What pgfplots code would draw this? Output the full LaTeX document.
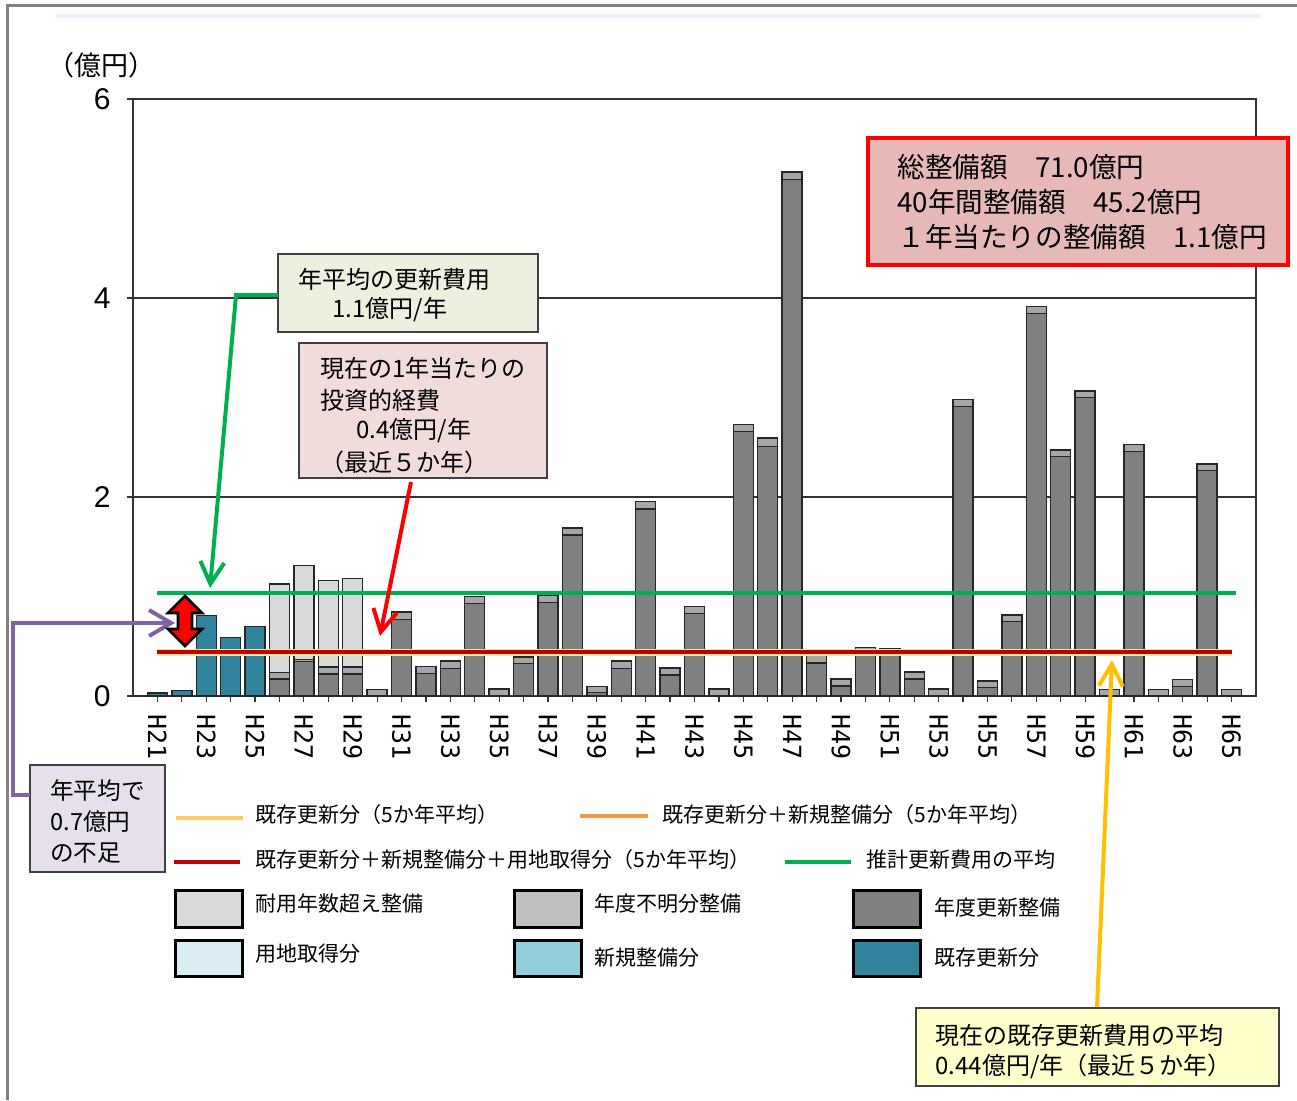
\documentclass[border=0pt]{standalone}
\usepackage{fontspec}
\setmainfont{Noto Sans CJK JP}
\newfontfamily\arialf{Liberation Sans}
\newfontfamily\monof{DejaVu Sans Mono}
\usepackage{pgfplots}
\pgfplotsset{compat=1.18}
\usepackage{pgfplotstable}
\usetikzlibrary{arrows.meta}

\definecolor{cTeal}{HTML}{31849B}
\definecolor{cDark}{HTML}{808080}
\definecolor{cMed}{HTML}{A6A6A6}
\definecolor{cMedL}{HTML}{BFBFBF}
\definecolor{cLight}{HTML}{D9D9D9}
\definecolor{cLand}{HTML}{DAEEF3}
\definecolor{cNew}{HTML}{92CDDC}
\definecolor{cGreen}{HTML}{00B050}
\definecolor{cRedL}{HTML}{C00000}
\definecolor{cOrange}{HTML}{F79646}
\definecolor{cYel}{HTML}{FFCC66}
\definecolor{cPurple}{HTML}{8064A2}
\definecolor{cGold}{HTML}{FFC000}
\definecolor{cBoxRed}{HTML}{E6B9B8}
\definecolor{cBoxPink}{HTML}{F2DCDB}
\definecolor{cBoxGreen}{HTML}{EBF1DE}
\definecolor{cBoxLav}{HTML}{E5E0EC}
\definecolor{cBoxYel}{HTML}{FFFFCC}

\pgfplotstableread{
x teal dark med light
0 0.03 0 0 0
1 0.055 0 0 0
2 0.81 0 0 0
3 0.59 0 0 0
4 0.70 0 0 0
5 0 0.17 0.065 0.89
6 0 0.345 0.02 0.945
7 0 0.22 0.07 0.873
8 0 0.22 0.07 0.89
9 0 0 0.067 0
10 0 0.77 0.075 0
11 0 0.228 0.067 0
12 0 0.278 0.074 0
13 0 0.93 0.068 0
14 0 0 0.07 0
15 0 0.325 0.067 0
16 0 0.94 0.068 0
17 0 1.618 0.072 0
18 0 0.033 0.064 0
19 0 0.278 0.074 0
20 0 1.88 0.076 0
21 0 0.21 0.07 0
22 0 0.83 0.07 0
23 0 0 0.07 0
24 0 2.66 0.07 0
25 0 2.51 0.085 0
26 0 5.19 0.076 0
27 0 0.33 0.08 0
28 0 0.10 0.072 0
29 0 0.47 0.02 0
30 0 0.41 0.07 0
31 0 0.17 0.07 0
32 0 0 0.07 0
33 0 2.91 0.073 0
34 0 0.084 0.066 0
35 0 0.747 0.066 0
36 0 3.846 0.067 0
37 0 2.405 0.067 0
38 0 3.0 0.067 0
39 0 0 0.067 0
40 0 2.46 0.07 0
41 0 0 0.067 0
42 0 0.094 0.073 0
43 0 2.265 0.067 0
44 0 0 0.067 0
}\bars

\pgfplotstableread{
x y
0 1.04
44.2 1.04
}\greenavg
\pgfplotstableread{
x y
0 0.44
44 0.44
}\redavg

\begin{document}
\begin{tikzpicture}
\useasboundingbox (0,0) rectangle (648.5pt,-550pt);
\begin{scope}[x=0.5pt,y=-0.5pt]
  \fill[white] (0,0) rectangle (1297,1100);
  \draw[draw=black!50, line width=1.5pt] (7,1100) -- (7,5) -- (1297,5);
  \draw[draw=blue!6, line width=2pt] (55,16) -- (1260,16);
\end{scope}

\begin{axis}[
  at={(66.5pt,-348pt)}, anchor=south west,
  scale only axis, width=561.5pt, height=298.5pt,
  xmin=-1, xmax=45, ymin=0, ymax=6,
  ybar stacked, bar width=10pt,
  ytick={0,2,4,6}, ymajorgrids,
  grid style={draw=black!80, line width=0.6pt},
  axis line style={draw=black!80, line width=0.8pt},
  xtick={0,...,44},
  xticklabels={H21,,H23,,H25,,H27,,H29,,H31,,H33,,H35,,H37,,H39,,H41,,H43,,H45,,H47,,H49,,H51,,H53,,H55,,H57,,H59,,H61,,H63,,H65},
  xtick pos=left, ytick pos=left, tick align=outside,
  major tick length=3pt,
  tick style={draw=black!80, line width=0.6pt},
  /pgf/number format/assume math mode=true,
  xticklabel shift=6pt,
  xticklabel style={rotate=-90, anchor=west, font=\monof\fontsize{12.5}{12.5}\selectfont, inner sep=0pt},
  yticklabel style={font=\arialf\fontsize{15}{15}\selectfont, inner sep=0pt, xshift=-8pt},
  every axis plot/.append style={draw=black!85, line width=0.7pt},
]
\addplot[fill=cTeal] table[x=x,y=teal]{\bars};
\addplot[fill=cDark] table[x=x,y=dark]{\bars};
\addplot[fill=cMed] table[x=x,y=med]{\bars};
\addplot[fill=cLight] table[x=x,y=light]{\bars};
\end{axis}

\begin{axis}[
  at={(66.5pt,-348pt)}, anchor=south west,
  scale only axis, width=561.5pt, height=298.5pt,
  xmin=-1, xmax=45, ymin=0, ymax=6, hide axis,
]
\addplot[no marks, draw=cYel!60, line width=3.5pt] table[x=x,y=y]{\redavg};
\addplot[no marks, draw=cRedL, line width=2pt] table[x=x,y=y]{\redavg};
\addplot[no marks, draw=cGreen, line width=2pt] table[x=x,y=y]{\greenavg};
\end{axis}

\begin{scope}[x=0.5pt,y=-0.5pt]
  % unit label
  \node[anchor=center, inner sep=0pt, font=\fontsize{13.5}{14}\selectfont] at (101,65) {（億円）};

  % red summary box
  \draw[draw=red, line width=2pt, fill=cBoxRed] (868,138) rectangle (1288,265);
  \begin{scope}[every node/.style={anchor=west, inner sep=0pt, font=\fontsize{13.8}{14}\selectfont}]
    \node at (897,167) {総整備額　71.0億円};
    \node at (897,202) {40年間整備額　45.2億円};
    \node at (897,237) {１年当たりの整備額　1.1億円};
  \end{scope}

  % green box and arrow
  \draw[draw=black!75, line width=0.6pt, fill=cBoxGreen] (278,254) rectangle (538,332);
  \begin{scope}[every node/.style={anchor=west, inner sep=0pt, font=\fontsize{12}{13}\selectfont}]
    \node at (298,279) {年平均の更新費用};
    \node at (332,310) {1.1億円/年};
  \end{scope}
  \draw[draw=cGreen, line width=2pt, -{Straight Barb[length=11pt,width=12pt]}] (278,295) -- (236,295) -- (210,588);

  % pink box and arrow
  \draw[draw=black!75, line width=0.6pt, fill=cBoxPink] (299,343) rectangle (547,478);
  \begin{scope}[every node/.style={anchor=west, inner sep=0pt, font=\fontsize{12}{13}\selectfont}]
    \node at (320,368) {現在の1年当たりの};
    \node at (320,400) {投資的経費};
    \node at (356,431) {0.4億円/年};
    \node at (320,462) {（最近５か年）};
  \end{scope}
  \draw[draw=red, line width=2pt, -{Straight Barb[length=11pt,width=12pt]}] (411,482) -- (380,636);

  % purple box and arrow
  \draw[draw=black!75, line width=0.6pt, fill=cBoxLav] (30,765) rectangle (165,872);
  \begin{scope}[every node/.style={anchor=west, inner sep=0pt, font=\fontsize{11.8}{12}\selectfont}]
    \node at (50,791) {年平均で};
    \node at (50,822) {0.7億円};
    \node at (50,853) {の不足};
  \end{scope}
  \draw[draw=cPurple, line width=2pt, -{Straight Barb[length=11pt,width=13pt]}] (30,795) -- (13,795) -- (13,623) -- (175,623);

  % red double arrow
  \draw[draw=black, line width=1.3pt, fill=red, line join=miter]
    (185,596) -- (202,613) -- (192,613) -- (192,629) -- (202,629) -- (185,646)
    -- (168,629) -- (178,629) -- (178,613) -- (168,613) -- cycle;

  % yellow box and arrow
  \draw[draw=cGold, line width=2pt, -{Straight Barb[length=11pt,width=12pt]}] (1097,1008) -- (1112,660);
  \draw[draw=black!75, line width=0.6pt, fill=cBoxYel] (916,1008) rectangle (1279,1086);
  \begin{scope}[every node/.style={anchor=west, inner sep=0pt, font=\fontsize{12}{13}\selectfont}]
    \node at (935,1035) {現在の既存更新費用の平均};
    \node at (935,1066) {0.44億円/年（最近５か年）};
  \end{scope}

  % legend
  \begin{scope}[every node/.style={anchor=west, inner sep=0pt, font=\fontsize{10.5}{11}\selectfont}]
    \draw[draw=cYel, line width=2pt] (176,818) -- (243,818);
    \node at (255,815) {既存更新分（5か年平均）};
    \draw[draw=cOrange, line width=2pt] (580,816) -- (648,816);
    \node at (662,815) {既存更新分＋新規整備分（5か年平均）};
    \draw[draw=cRedL, line width=2pt] (174,862) -- (240,862);
    \node at (255,860) {既存更新分＋新規整備分＋用地取得分（5か年平均）};
    \draw[draw=cGreen, line width=2pt] (785,862) -- (851,862);
    \node at (866,860) {推計更新費用の平均};

    \draw[draw=black, line width=1.5pt, fill=cLight] (175,890) rectangle (242,927);
    \node at (255,904) {耐用年数超え整備};
    \draw[draw=black, line width=1.5pt, fill=cMedL] (514,890) rectangle (581,927);
    \node at (594,904) {年度不明分整備};
    \draw[draw=black, line width=1.5pt, fill=cDark] (853,890) rectangle (920,927);
    \node at (934,908) {年度更新整備};

    \draw[draw=black, line width=1.5pt, fill=cLand] (175,940) rectangle (242,976);
    \node at (255,954) {用地取得分};
    \draw[draw=black, line width=1.5pt, fill=cNew] (514,940) rectangle (581,976);
    \node at (594,958) {新規整備分};
    \draw[draw=black, line width=1.5pt, fill=cTeal] (853,940) rectangle (920,976);
    \node at (934,958) {既存更新分};
  \end{scope}
\end{scope}
\end{tikzpicture}
\end{document}
